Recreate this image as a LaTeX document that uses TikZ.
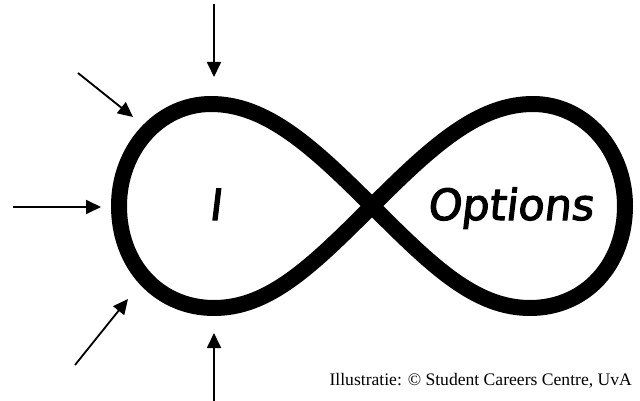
\documentclass[tikz,border=0pt]{standalone}
\usepackage{fontspec}
\setmainfont{Liberation Serif}
\newfontfamily\handfont{DejaVu Sans}[FakeSlant=0.12,FakeBold=2.5]
\usetikzlibrary{arrows.meta}
\begin{document}
\begin{tikzpicture}[x=1pt,y=-1pt,
  loopline/.style={line width=16pt,line join=round},
  pointer/.style={line width=1.8pt,-{Triangle[length=15pt,width=14pt]}},
  hand/.style={font=\handfont\fontsize{43}{48}\selectfont, inner sep=0pt}]
\useasboundingbox (0,0) rectangle (640,401);
% crossing point and loop extremes
\coordinate (c) at (372,206);
\coordinate (rt) at (533,104);
\coordinate (rr) at (625,206);
\coordinate (rb) at (530,308);
\coordinate (lt) at (211,104);
\coordinate (ll) at (119,206);
\coordinate (lb) at (214,308);
% the figure-eight
\draw[loopline] (c) .. controls (432,146) and (478,104) .. (rt)
  .. controls (585,104) and (625,150) .. (rr)
  .. controls (625,265) and (585,308) .. (rb)
  .. controls (475,308) and (432,266) .. (c)
  .. controls (312,146) and (266,104) .. (lt)
  .. controls (159,104) and (119,150) .. (ll)
  .. controls (119,265) and (159,308) .. (lb)
  .. controls (269,308) and (312,266) .. (c) -- cycle;
% labels
\node[hand,anchor=base] (self) at (215,220) {I};
\node[hand,anchor=base] (opts) at (510,220) {Options};
\node[anchor=base east, font=\fontsize{17.6}{20}\selectfont, inner sep=0pt] (credit) at (632,385) {Illustratie: © Student Careers Centre, UvA};
% incoming arrows
\coordinate (a1s) at (214,4);   \coordinate (a1e) at (214,77);
\coordinate (a2s) at (78,73);   \coordinate (a2e) at (133,117);
\coordinate (a3s) at (13,207);  \coordinate (a3e) at (101,207);
\coordinate (a4s) at (75,365);  \coordinate (a4e) at (128,299);
\coordinate (a5s) at (214,401); \coordinate (a5e) at (214,333);
\foreach \s/\e in {a1s/a1e,a2s/a2e,a3s/a3e,a4s/a4e,a5s/a5e}
  \draw[pointer] (\s) -- (\e);
\end{tikzpicture}
\end{document}
